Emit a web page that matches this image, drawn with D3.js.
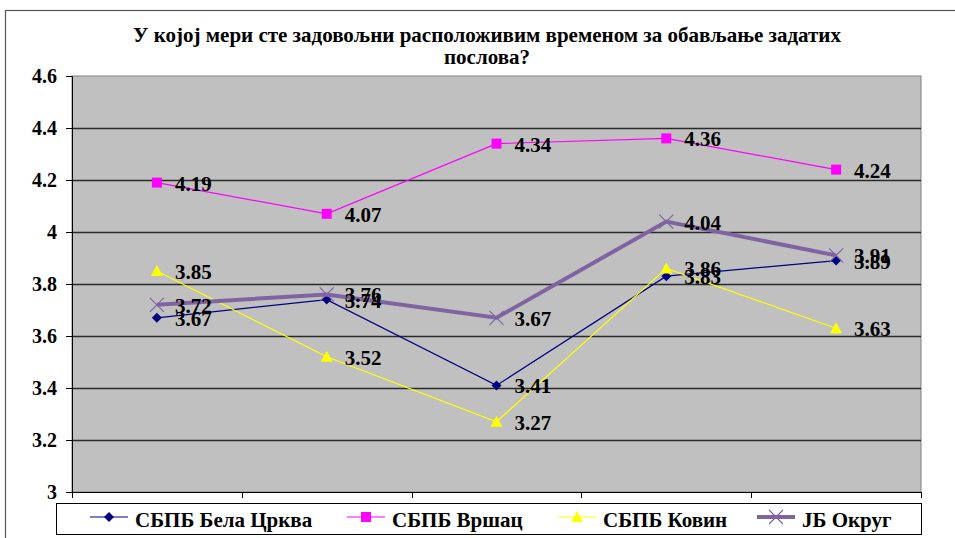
<!DOCTYPE html>
<html><head><meta charset="utf-8"><script src="https://cdn.jsdelivr.net/npm/d3@7"></script></head>
<body style="margin:0">
<svg width="955" height="538"></svg>
<script>
const width = 955, height = 538;
const svg = d3.select("svg");

// Data
const categories = ["1", "2", "3", "4", "5"];
const seriesNames = ["СБПБ Бела Црква", "СБПБ Вршац", "СБПБ Ковин", "ЈБ Округ"];
const belaCrkva = [3.67, 3.74, 3.41, 3.83, 3.89];
const vrsac = [4.19, 4.07, 4.34, 4.36, 4.24];
const kovin = [3.85, 3.52, 3.27, 3.86, 3.63];
const okrug = [3.72, 3.76, 3.67, 4.04, 3.91];
const yTicks = [3, 3.2, 3.4, 3.6, 3.8, 4, 4.2, 4.4, 4.6];
const titleLines = ["У којој мери сте задовољни расположивим временом за обављање задатих", "послова?"];

const series = [
  { name: seriesNames[0], values: belaCrkva, color: "#000080", width: 1.2, marker: "diamond" },
  { name: seriesNames[1], values: vrsac, color: "#FF00FF", width: 1.2, marker: "square" },
  { name: seriesNames[2], values: kovin, color: "#FFFF00", width: 1.2, marker: "triangle" },
  { name: seriesNames[3], values: okrug, color: "#8064A2", width: 4, marker: "cross" }
];

const plot = { left: 72, right: 921, top: 76, bottom: 492 };

// outer chart border
svg.append("rect").attr("x", 5.5).attr("y", 10.5).attr("width", 970).attr("height", 560)
  .attr("fill", "#fff").attr("stroke", "#555").attr("stroke-width", 1.2);

// title
svg.selectAll("text.title").data(titleLines).enter().append("text").attr("class", "title")
  .attr("x", 487).attr("y", (d, i) => 42 + i * 22).attr("text-anchor", "middle")
  .style("font-family", d => '"Liberation Serif"').style("font-weight", "bold").style("font-size", "21px")
  .text(d => d);

const x = d3.scaleBand().domain(categories).range([plot.left, plot.right]);
const y = d3.scaleLinear().domain([3, 4.6]).range([plot.bottom, plot.top]);

// plot background
svg.append("rect").attr("x", plot.left).attr("y", plot.top)
  .attr("width", plot.right - plot.left).attr("height", plot.bottom - plot.top)
  .attr("fill", "#C0C0C0").attr("stroke", "#808080").attr("stroke-width", 1);

// gridlines
svg.append("g").selectAll("line")
  .data(yTicks.filter(t => t > 3 && t < 4.6))
  .enter().append("line")
  .attr("x1", plot.left).attr("x2", plot.right)
  .attr("y1", d => Math.round(y(d)) + 0.5).attr("y2", d => Math.round(y(d)) + 0.5)
  .attr("stroke", "#2a2a2a").attr("stroke-width", 1.3);

// y axis
const yAxis = svg.append("g").attr("transform", `translate(${plot.left},0)`)
  .call(d3.axisLeft(y).tickValues(yTicks).tickSize(6).tickPadding(9).tickFormat(d3.format("")));
yAxis.select(".domain").attr("stroke", "#000");
yAxis.selectAll(".tick line").attr("stroke", "#000");
yAxis.selectAll("text").attr("fill", "#000")
  .style("font-family", d => '"Liberation Serif"').style("font-weight", "bold").style("font-size", "20px");

// x axis (ticks at category boundaries)
const xAxis = svg.append("g").attr("transform", `translate(0,${plot.bottom})`);
xAxis.append("line").attr("x1", plot.left).attr("x2", plot.right).attr("y1", 0.5).attr("y2", 0.5).attr("stroke", "#000");
const bounds = categories.map(c => x(c)).concat([x(categories[categories.length - 1]) + x.bandwidth()]);
xAxis.selectAll("line.tk").data(bounds).enter().append("line").attr("class", "tk")
  .attr("x1", d => Math.round(d) + 0.5).attr("x2", d => Math.round(d) + 0.5)
  .attr("y1", 0).attr("y2", 6).attr("stroke", "#000");

const cx = c => x(c) + x.bandwidth() / 2;

function drawMarker(g, type, color, px, py) {
  if (type === "diamond") {
    g.append("path").attr("d", `M${px},${py - 5}L${px + 5},${py}L${px},${py + 5}L${px - 5},${py}Z`).attr("fill", color);
  } else if (type === "square") {
    g.append("rect").attr("x", px - 5).attr("y", py - 5).attr("width", 10).attr("height", 10).attr("fill", color);
  } else if (type === "triangle") {
    g.append("path").attr("d", `M${px},${py - 6}L${px + 6},${py + 5}L${px - 6},${py + 5}Z`).attr("fill", color);
  } else if (type === "cross") {
    g.append("path").attr("d", `M${px - 7},${py - 7}L${px + 7},${py + 7}M${px + 7},${py - 7}L${px - 7},${py + 7}`)
      .attr("stroke", color).attr("stroke-width", 1.2).attr("fill", "none");
  }
}

const line = d3.line().x((d, i) => cx(categories[i])).y(d => y(d));

series.forEach(s => {
  const g = svg.append("g");
  g.append("path").datum(s.values).attr("d", line)
    .attr("fill", "none").attr("stroke", s.color).attr("stroke-width", s.width);
  s.values.forEach((v, i) => drawMarker(g, s.marker, s.color, cx(categories[i]), y(v)));
});

// data labels
series.forEach(s => {
  svg.append("g").selectAll("text").data(s.values).enter().append("text")
    .attr("x", (d, i) => cx(categories[i]) + 18)
    .attr("y", d => y(d) + 8)
    .attr("fill", "#000")
    .style("font-family", d => '"Liberation Serif"').style("font-weight", "bold").style("font-size", "21px")
    .text(d => d3.format(".2f")(d));
});

// legend
const legend = svg.append("g");
legend.append("rect").attr("x", 56.5).attr("y", 503.5).attr("width", 865).attr("height", 31)
  .attr("fill", "#fff").attr("stroke", "#000").attr("stroke-width", 1);
const legendX = [90, 347, 558, 757];
legend.selectAll("line.key").data(series).enter().append("line").attr("class", "key")
  .attr("x1", (d, i) => legendX[i]).attr("x2", (d, i) => legendX[i] + 38)
  .attr("y1", 517).attr("y2", 517)
  .attr("stroke", d => d.color).attr("stroke-width", d => d.width);
series.forEach((s, i) => drawMarker(legend, s.marker, s.color, legendX[i] + 19, 517));
legend.selectAll("text").data(series).enter().append("text")
  .attr("x", (d, i) => legendX[i] + 45).attr("y", 527)
  .style("font-family", d => '"Liberation Serif"').style("font-weight", "bold").style("font-size", "21px")
  .text(d => d.name);
</script>
</body>
</html>
